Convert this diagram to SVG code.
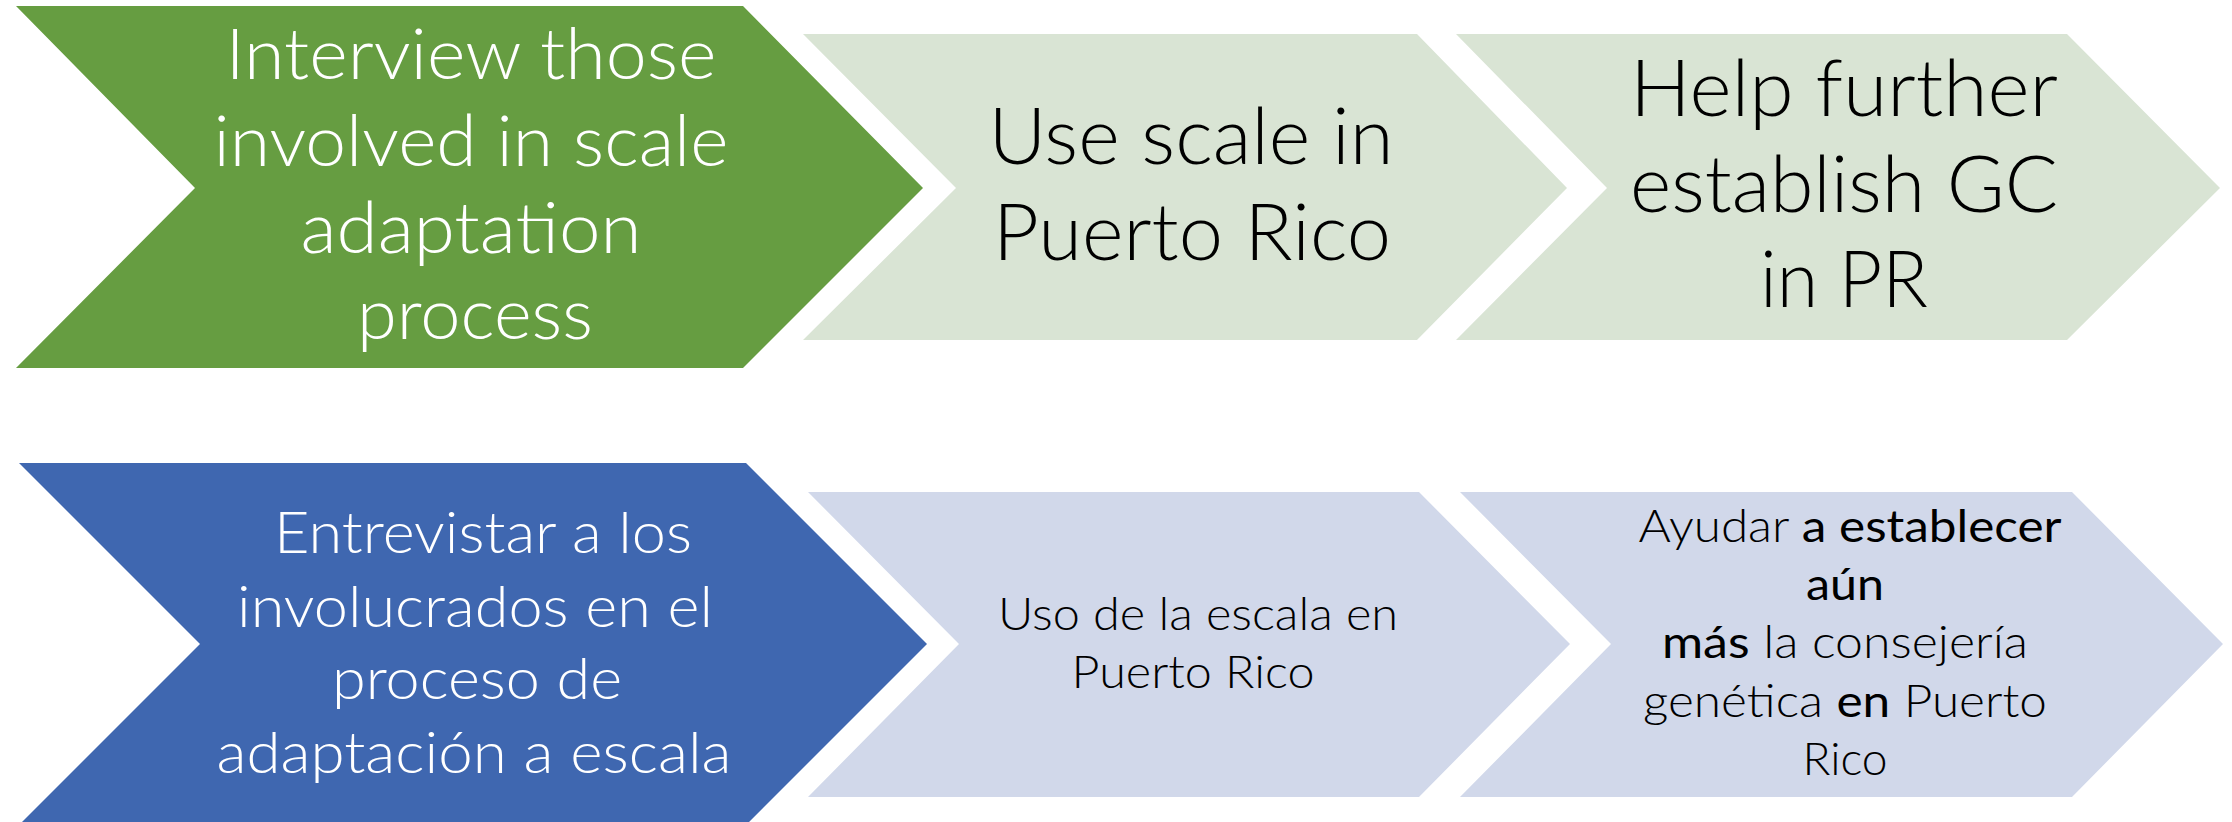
<svg xmlns="http://www.w3.org/2000/svg" width="2232" height="822" viewBox="0 0 2232 822">
<style>
text{font-family:Lato,"Open Sans","Liberation Sans",sans-serif;font-weight:300;text-anchor:middle}
.w{fill:#ffffff}
.k{fill:#000000}
.b{font-weight:400}
</style>
<rect width="2232" height="822" fill="#ffffff"/>
<g id="n1">
<polygon points="16,6 743,6 923,188 743,368 16,368 195,188" fill="#669D41"/>
<text class="w" font-size="71" x="471" y="79" textLength="491" lengthAdjust="spacingAndGlyphs">Interview those</text>
<text class="w" font-size="71" x="471" y="166" textLength="515" lengthAdjust="spacingAndGlyphs">involved in scale</text>
<text class="w" font-size="71" x="471" y="253" textLength="341" lengthAdjust="spacingAndGlyphs">adaptation</text>
<text class="w" font-size="71" x="475" y="339" textLength="236" lengthAdjust="spacingAndGlyphs">process</text>
</g>
<g id="n2">
<polygon points="803,34 1417,34 1567,188 1417,340 803,340 956,188" fill="#D9E4D4"/>
<text class="k" font-size="78" x="1191" y="164" textLength="405" lengthAdjust="spacingAndGlyphs">Use scale in</text>
<text class="k" font-size="78" x="1192" y="260" textLength="398" lengthAdjust="spacingAndGlyphs">Puerto Rico</text>
</g>
<g id="n3">
<polygon points="1456,34 2067,34 2220,188 2067,340 1456,340 1607,188" fill="#D9E4D4"/>
<text class="k" font-size="78" x="1844" y="116" textLength="428" lengthAdjust="spacingAndGlyphs">Help further</text>
<text class="k" font-size="78" x="1844" y="212" textLength="428" lengthAdjust="spacingAndGlyphs">establish GC</text>
<text class="k" font-size="78" x="1844" y="307" textLength="168" lengthAdjust="spacingAndGlyphs">in PR</text>
</g>
<g id="n4">
<polygon points="19,463 746,463 927,644 746,825 19,825 200,644" fill="#3F67B0"/>
<text class="w" font-size="57" x="483" y="553" textLength="418" lengthAdjust="spacingAndGlyphs">Entrevistar a los</text>
<text class="w" font-size="57" x="475" y="627" textLength="476" lengthAdjust="spacingAndGlyphs">involucrados en el</text>
<text class="w" font-size="57" x="477" y="699" textLength="290" lengthAdjust="spacingAndGlyphs">proceso de</text>
<text class="w" font-size="57" x="474" y="773" textLength="515" lengthAdjust="spacingAndGlyphs">adaptación a escala</text>
</g>
<g id="n5">
<polygon points="808,492 1419,492 1570,644 1419,797 808,797 959,644" fill="#D1D8EA"/>
<text class="k" font-size="46" x="1198" y="630" textLength="400" lengthAdjust="spacingAndGlyphs">Uso de la escala en</text>
<text class="k" font-size="46" x="1193" y="688" textLength="243" lengthAdjust="spacingAndGlyphs">Puerto Rico</text>
</g>
<g id="n6">
<polygon points="1460,492 2072,492 2223,644 2072,797 1460,797 1611,644" fill="#D1D8EA"/>
<text class="k" font-size="45" x="1850" y="542" textLength="423" lengthAdjust="spacingAndGlyphs">Ayudar <tspan class="b">a establecer</tspan></text>
<text class="k b" font-size="45" x="1845" y="600" textLength="78" lengthAdjust="spacingAndGlyphs">aún</text>
<text class="k" font-size="45" x="1845" y="658" textLength="366" lengthAdjust="spacingAndGlyphs"><tspan class="b">más</tspan> la consejería</text>
<text class="k" font-size="45" x="1845" y="717" textLength="404" lengthAdjust="spacingAndGlyphs">genética <tspan class="b">en</tspan> Puerto</text>
<text class="k" font-size="45" x="1845" y="775" textLength="85" lengthAdjust="spacingAndGlyphs">Rico</text>
</g>
<g id="connectors"/>
</svg>
